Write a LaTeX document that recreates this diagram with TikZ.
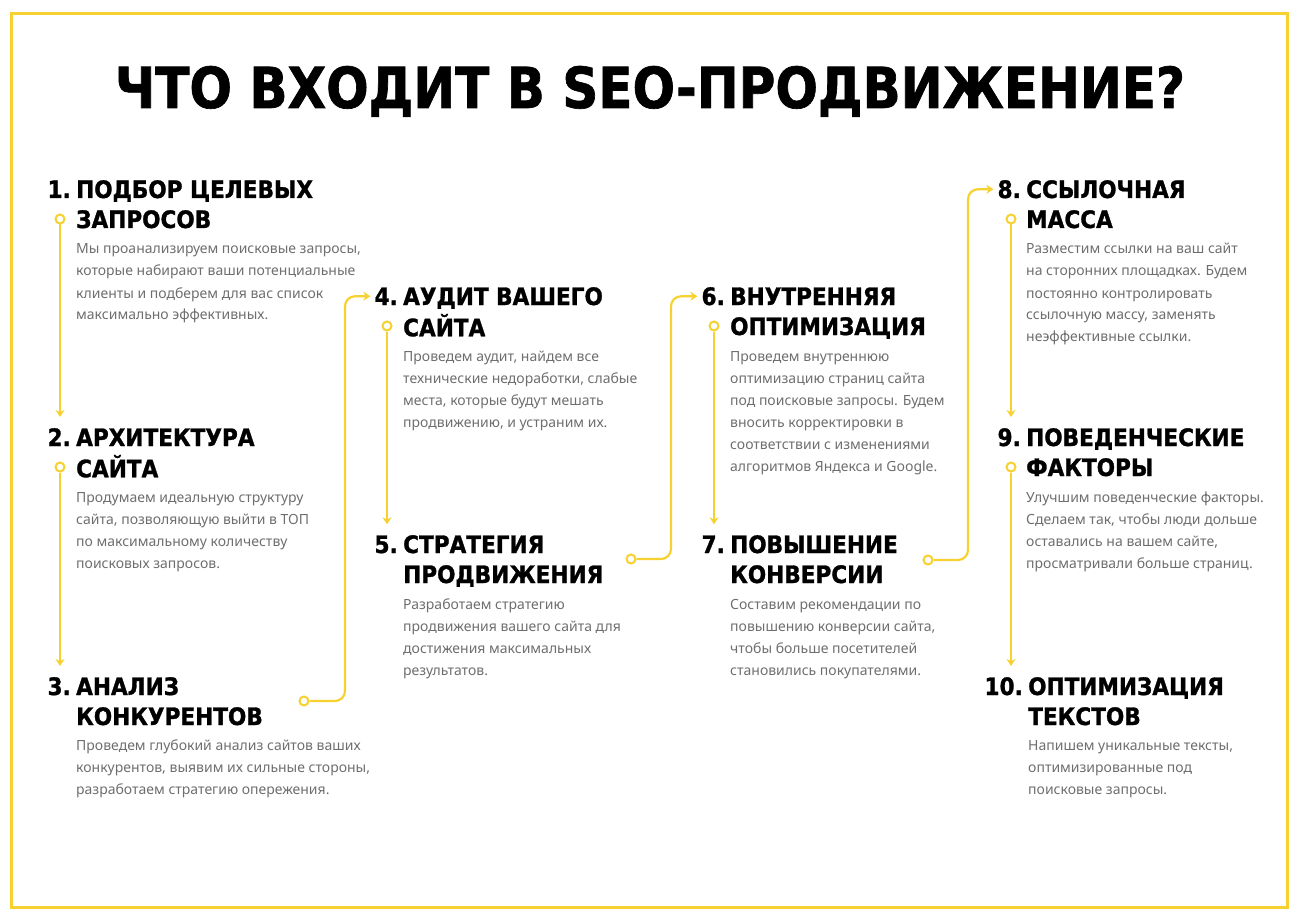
\documentclass[tikz,border=0pt]{standalone}
\usepackage{fontspec}
\usepackage{graphicx}
\newfontfamily\headfont{DejaVu Sans}[BoldFeatures={FakeBold=1.2,FakeStretch=0.9}]
\newfontfamily\bodyfont{Noto Sans}
\usetikzlibrary{arrows.meta}
\definecolor{seoyellow}{HTML}{F6D12F}
\definecolor{seogrey}{HTML}{6E6E6E}
\newcommand\lines[1]{\begin{tabular}[t]{@{}l@{}}#1\end{tabular}}
\begin{document}
\begin{tikzpicture}[x=1pt,y=-1pt,
  head/.style={anchor=base west, inner sep=0, font=\headfont\bfseries\fontsize{24}{30}\selectfont},
  num/.style={anchor=base east, inner sep=0, font=\headfont\bfseries\fontsize{24}{30}\selectfont},
  txt/.style={anchor=base west, inner sep=0, text=seogrey, font=\bodyfont\fontsize{14}{22}\selectfont},
  dot/.style={circle, draw=seoyellow, line width=2pt, fill=white, minimum size=9pt, inner sep=0},
  flow/.style={draw=seoyellow, line width=2.2pt, -{Stealth[length=7pt,width=9pt]}, shorten >=11pt},
  link/.style={draw=seoyellow, line width=2.2pt, -{Stealth[length=7pt,width=9pt]}, rounded corners=10pt, shorten >=4pt}]
\useasboundingbox (0,0) rectangle (1300,917);
\draw[seoyellow, line width=3pt] (11.5,13.5) rectangle (1287,907);
\node[anchor=base] (title) at (650,108) {\resizebox{1070pt}{42pt}{\headfont\bfseries ЧТО ВХОДИТ В SEO-ПРОДВИЖЕНИЕ?}};
% column 1
\node[num] (n1) at (71,198) {1.};
\node[head] (h1) at (76,198) {\lines{ПОДБОР ЦЕЛЕВЫХ\\ЗАПРОСОВ}};
\node[txt] (t1) at (76,254) {\lines{Мы проанализируем поисковые запросы,\\которые набирают ваши потенциальные\\клиенты и подберем для вас список\\максимально эффективных.}};
\node[dot] (o1) at (60,219) {};
\node[num] (n2) at (71,446) {2.};
\node[head] (h2) at (76,446) {\lines{АРХИТЕКТУРА\\САЙТА}};
\node[txt] (t2) at (76,502) {\lines{Продумаем идеальную структуру\\сайта, позволяющую выйти в ТОП\\по максимальному количеству\\поисковых запросов.}};
\node[dot] (o2) at (60,467) {};
\node[num] (n3) at (71,695) {3.};
\node[head] (h3) at (76,695) {\lines{АНАЛИЗ\\КОНКУРЕНТОВ}};
\node[txt] (t3) at (76,750) {\lines{Проведем глубокий анализ сайтов ваших\\конкурентов, выявим их сильные стороны,\\разработаем стратегию опережения.}};
\node[dot] (p3) at (304,701) {};
% column 2
\node[num] (n4) at (398,305) {4.};
\node[head] (h4) at (403,305) {\lines{АУДИТ ВАШЕГО\\САЙТА}};
\node[txt] (t4) at (403,361) {\lines{Проведем аудит, найдем все\\технические недоработки, слабые\\места, которые будут мешать\\продвижению, и устраним их.}};
\node[dot] (o4) at (387,326) {};
\node[num] (n5) at (398,553) {5.};
\node[head] (h5) at (403,553) {\lines{СТРАТЕГИЯ\\ПРОДВИЖЕНИЯ}};
\node[txt] (t5) at (403,609) {\lines{Разработаем стратегию\\продвижения вашего сайта для\\достижения максимальных\\результатов.}};
\node[dot] (p5) at (631,559) {};
% column 3
\node[num] (n6) at (725,305) {6.};
\node[head] (h6) at (730,305) {\lines{ВНУТРЕННЯЯ\\ОПТИМИЗАЦИЯ}};
\node[txt] (t6) at (730,361) {\lines{Проведем внутреннюю\\оптимизацию страниц сайта\\под поисковые запросы. Будем\\вносить корректировки в\\соответствии с изменениями\\алгоритмов Яндекса и Google.}};
\node[dot] (o6) at (714,326) {};
\node[num] (n7) at (725,553) {7.};
\node[head] (h7) at (730,553) {\lines{ПОВЫШЕНИЕ\\КОНВЕРСИИ}};
\node[txt] (t7) at (730,609) {\lines{Составим рекомендации по\\повышению конверсии сайта,\\чтобы больше посетителей\\становились покупателями.}};
\node[dot] (p7) at (928,560) {};
% column 4
\node[num] (n8) at (1021,198) {8.};
\node[head] (h8) at (1026,198) {\lines{ССЫЛОЧНАЯ\\МАССА}};
\node[txt] (t8) at (1026,254) {\lines{Разместим ссылки на ваш сайт\\на сторонних площадках. Будем\\постоянно контролировать\\ссылочную массу, заменять\\неэффективные ссылки.}};
\node[dot] (o8) at (1011,219) {};
\node[num] (n9) at (1021,446) {9.};
\node[head] (h9) at (1026,446) {\lines{ПОВЕДЕНЧЕСКИЕ\\ФАКТОРЫ}};
\node[txt] (t9) at (1026,502) {\lines{Улучшим поведенческие факторы.\\Сделаем так, чтобы люди дольше\\оставались на вашем сайте,\\просматривали больше страниц.}};
\node[dot] (o9) at (1011,467) {};
\node[num] (n10) at (1023,695) {10.};
\node[head] (h10) at (1028,695) {\lines{ОПТИМИЗАЦИЯ\\ТЕКСТОВ}};
\node[txt] (t10) at (1028,750) {\lines{Напишем уникальные тексты,\\оптимизированные под\\поисковые запросы.}};
% arrows
\draw[flow] (o1) -- (o1 |- n2.north);
\draw[flow] (o2) -- (o2 |- n3.north);
\draw[flow] (o4) -- (o4 |- n5.north);
\draw[flow] (o6) -- (o6 |- n7.north);
\draw[flow] (o8) -- (o8 |- n9.north);
\draw[flow] (o9) -- (o9 |- n10.north);
\draw[link] (p3) -- ++(41,0) |- (n4.west);
\draw[link] (p5) -- ++(40,0) |- (n6.west);
\draw[link] (p7) -- ++(40,0) |- (n8.west);
\end{tikzpicture}
\end{document}
